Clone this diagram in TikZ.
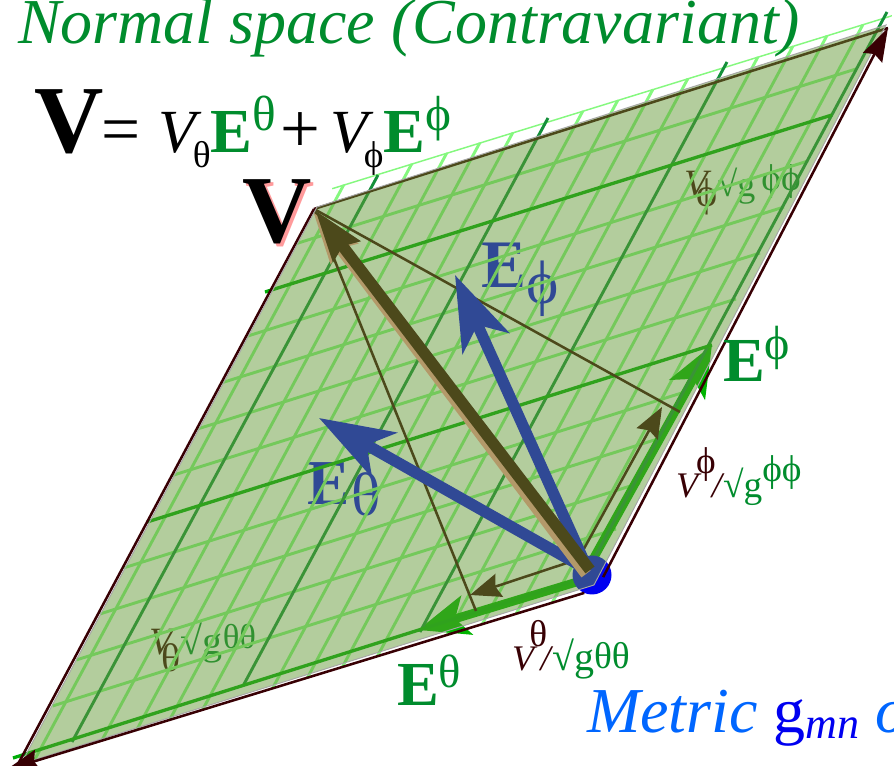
\documentclass[tikz,border=0pt]{standalone}
\usepackage{xcolor}
\usepackage{fontspec}
\setmainfont{Liberation Serif}
\usetikzlibrary{arrows.meta}

\definecolor{maroon}{HTML}{380004}
\definecolor{leaf}{HTML}{008C2D}
\definecolor{sky}{HTML}{0066FF}
\definecolor{pureblue}{HTML}{0000F0}
\definecolor{rose}{HTML}{FF9A9B}
\definecolor{lightline}{HTML}{85F87F}
\definecolor{darkline}{HTML}{14903A}
\definecolor{mainline}{HTML}{00AD08}
\definecolor{dualgreen}{HTML}{00B400}
\definecolor{sheetgreen}{HTML}{639835}
\newcommand{\fs}[1]{\fontsize{#1}{#1}\selectfont}
\newcommand{\thet}{θ}
\newcommand{\phii}{ϕ}
\newcommand{\up}[3]{\raisebox{#1}{\fs{#2}#3}}

\begin{document}
\begin{tikzpicture}[
  x=0.75pt, y=-0.75pt,
  txt/.style={anchor=base west, inner sep=0pt, outer sep=0pt},
  gridlight/.style={draw=lightline, line width=2.2pt},
  griddark/.style={draw=darkline, line width=2.2pt},
  gridmain/.style={draw=mainline, line width=2.5pt},
  rim/.style={draw=maroon, line width=1.9pt},
  edge/.style={rim, shorten <=10pt, -{Stealth[length=25pt,width=16pt,inset=3pt]}},
  thin/.style={draw=maroon, line width=1.9pt},
  comp/.style={thin, -{Stealth[length=23pt,width=18pt,inset=3pt]}},
  basis/.style={draw=pureblue, line width=8.5pt, -{Stealth[length=56pt,width=38pt,inset=15pt]}},
  dual/.style={draw=dualgreen, line width=6.5pt, -{Stealth[length=38pt,width=30pt,inset=9pt]}},
  vec/.style={line width=8.5pt, -{Stealth[length=38pt,width=24pt,inset=4pt]}},
  sheet/.style={fill=sheetgreen, fill opacity=.485, draw=gray!70, line width=.7pt},
]
  \clip (0,0) rectangle (894,766);
  \coordinate (nO) at (597,589);
  \coordinate (nV) at (314,209);
  \coordinate (nR) at (888,28);
  \coordinate (nB) at (17,766);
  \coordinate (nTip) at (6,770);

  % labels lying under the sheet
  \node[txt] (eLow) at (307,505) {\textcolor{pureblue}{\fs{48}\textbf{E}\hspace{1pt}\up{-8pt}{46}{\thet}}};
  \node[txt] (eUp) at (481,288) {\textcolor{pureblue}{\fs{51}\textbf{E}\up{-12pt}{46}{\phii}}};
  \node[txt] (compPhi) at (684,197) {\textcolor{maroon}{\fs{29}\textit{V}\hspace{-11pt}\up{-7pt}{30}{\phii}}\textcolor{leaf}{\fs{27}√g\,\up{5pt}{28}{\phii\phii}}};
  \node[txt] (compTh) at (149,655) {\textcolor{maroon}{\fs{29}\textit{V}\hspace{-11pt}\up{-12.5pt}{30}{\thet}}\textcolor{leaf}{\fs{30}√g\up{5pt}{26}{\thet\thet}}};

  % grid
  \begin{scope}
    \clip (nB) -- (nV) -- (332,188) -- (892,15) -- (nR) -- (nO) -- cycle;
    \foreach \t in {344,412,447,480,513,583,618,653,688,758,793,827,863}
      \draw[gridlight] (\t,{188-(\t-332)*.308}) -- ++(-430,800);
    \foreach \k in {-1,1,2,3,4,6,7,8,9}
      \draw[gridlight] ({265-23.6*\k},{292+46*\k}) -- ({832-24*\k},{115+46*\k});
    \draw[gridlight] (332,188) -- (892,15);
  \end{scope}
  \draw[dual] (587,570) -- (712,345);
  \draw[dual] (590,578) -- (418,630);
  \draw[griddark] (378,175) -- (72,742);
  \draw[griddark] (548,118) -- (243,686);
  \draw[griddark] (727,62) -- (420,632);
  \draw[griddark] (887,12) -- (590,566);
  \draw[gridmain] (265,292) -- (832,115);
  \draw[gridmain] (147,522) -- (712,345);
  \draw[gridmain] (13,758) -- (590,576);

  % vectors
  \draw[rim] (nV) -- (nR);
  \draw[rim] (nV) -- (nB);
  \fill[pureblue] (592,575) circle (19.5);
  \draw[thin] (nV) -- (680,412);
  \draw[thin] (nV) -- (476,611);
  \draw[comp] (575,565) -- (662,407);
  \draw[comp] (585,557) -- (470,595);
  \draw[basis] (588,570) -- (455,275);
  \draw[basis] (588,570) -- (319,418);
  \draw[vec, draw=rose] (586,574) -- (313,212);
  \draw[vec, draw=maroon] (590,570) -- (315,210);

  \path[sheet] (21,764) -- (317,207) -- (886,25) -- (594,585) -- cycle;
  \draw[edge] (nO) -- (nR);
  \draw[edge] (nO) -- (nTip);

  % labels
  \node[txt, text=leaf, font=\fs{48}\itshape] (titleNormal) at (18,44) {Normal space (Contravariant)};
  \node[txt, font=\fs{72}\bfseries] (bigV) at (34,153) {V};
  \node[txt] (formula) at (101,153) {\fs{52}=\hspace{14pt}\fs{46}\textit{V}\hspace{-7pt}\up{-11pt}{28}{\thet}\fs{47}\textcolor{leaf}{\textbf{E}\up{17pt}{37}{\thet}}\hspace{3pt}\fs{53}+\hspace{8pt}\fs{46}\textit{V}\hspace{-7.5pt}\up{-11pt}{28}{\phii}\fs{47}\textcolor{leaf}{\textbf{E}\up{17pt}{37}{\phii}}};
  \node[txt, text=rose, font=\fs{72}\bfseries] (vecVshade) at (245,246) {V};
  \node[txt, font=\fs{72}\bfseries] (vecV) at (242,243) {V};
  \node[txt, text=leaf] (dualPhi) at (723,382) {\fs{47}\textbf{E}\up{17pt}{36}{\phii}};
  \node[txt, text=leaf] (dualTh) at (397,706) {\fs{47}\textbf{E}\up{14pt}{35}{\thet}};
  \node[txt] (lenPhi) at (676,498) {\textcolor{maroon}{\fs{27}\textit{V}\hspace{-4pt}\up{18pt}{28}{\phii}\hspace{-3pt}\textit{/}}\textcolor{leaf}{\fs{28}\hspace{-1pt}√g\up{12pt}{28}{\phii\phii}}};
  \node[txt] (lenTh) at (512,671) {\textcolor{maroon}{\fs{27}\textit{V}\hspace{-6pt}\up{18pt}{28}{\thet}\hspace{-5pt}\textit{/}}\textcolor{leaf}{\fs{30}\hspace{-1pt}√g\up{2pt}{28}{\thet\thet}}};
  \node[txt, text=sky, font=\fs{48}\itshape] (metric) at (587,733) {Metric \textcolor{pureblue}{\upshape g\itshape\fs{33}\raisebox{-4pt}{mn}} o};
\end{tikzpicture}
\end{document}
